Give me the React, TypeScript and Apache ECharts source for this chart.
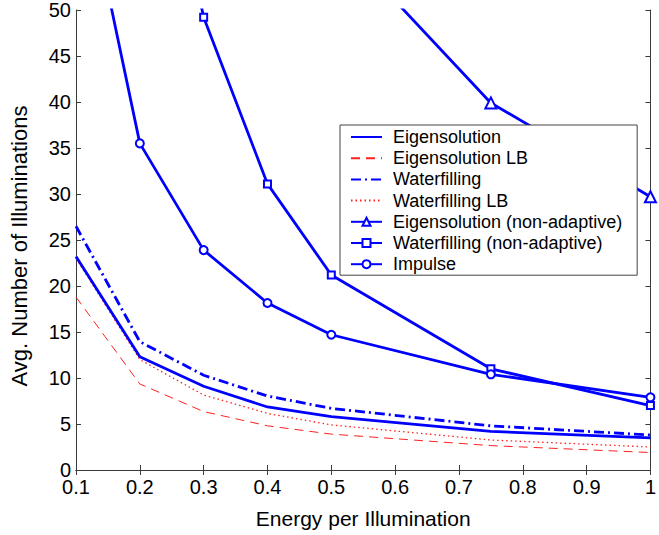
import React, { useEffect, useRef } from "react";
import * as echarts from "echarts";

const energy = [0.1, 0.2, 0.3, 0.4, 0.5, 0.75, 1.0];
const eigensolution = [23.2, 12.3, 9.1, 6.85, 5.8, 4.2, 3.5];
const eigensolutionLB = [18.8, 9.35, 6.35, 4.8, 3.9, 2.65, 1.9];
const waterfilling = [26.5, 13.95, 10.3, 8.04, 6.7, 4.8, 3.8];
const waterfillingLB = [23.0, 12.0, 8.15, 6.15, 4.9, 3.26, 2.5];
const eigenNonAdaptiveX = [0.5, 0.75, 1.0];
const eigenNonAdaptive = [58.4, 39.9, 29.7];
const waterNonAdaptiveX = [0.2, 0.3, 0.4, 0.5, 0.75, 1.0];
const waterNonAdaptive = [82, 49.2, 31.1, 21.2, 11.0, 7.0];
const impulse = [68.5, 35.5, 23.9, 18.15, 14.7, 10.4, 7.9];

const seriesNames = [
  "Eigensolution",
  "Eigensolution LB",
  "Waterfilling",
  "Waterfilling LB",
  "Eigensolution (non-adaptive)",
  "Waterfilling (non-adaptive)",
  "Impulse",
];

const pairs = (xs: number[], ys: number[]) => xs.map((x, i) => [x, ys[i]]);

const FONT = "'Liberation Sans', Arial, Helvetica, sans-serif";
const BLUE = "#0000ff";
const RED = "#ff2020";
const AXIS = "#3a3a3a";
const CLEAR = "rgba(0,0,0,0)";

export default function App() {
  const ref = useRef<HTMLDivElement>(null);
  useEffect(() => {
    if (!ref.current) return;
    const chart = echarts.init(ref.current, undefined, { renderer: "svg" });
    const fmt = (v: number) => String(Math.round(v * 10) / 10);
    const axisCommon = {
      axisLine: { show: true, lineStyle: { color: AXIS, width: 1 } },
      axisTick: { show: true, inside: true, length: 5, lineStyle: { color: AXIS } },
      splitLine: { show: false },
    };
    const plainLine = (name: string, data: number[][], color: string, width: number, type: any, z: number) => ({
      name,
      type: "line",
      data,
      symbol: "none",
      showSymbol: false,
      clip: true,
      lineStyle: { color, width, type },
      itemStyle: { color: CLEAR, borderColor: CLEAR, borderWidth: 0 },
      z,
    });
    const markedLine = (name: string, data: number[][], symbol: string, symbolSize: number) => ({
      name,
      type: "line",
      data,
      symbol,
      symbolSize,
      showSymbol: true,
      clip: true,
      lineStyle: { color: BLUE, width: 2.8 },
      itemStyle: { color: BLUE, borderColor: BLUE, borderWidth: 2 },
      z: 3,
    });
    chart.setOption({
      animation: false,
      backgroundColor: "#fff",
      textStyle: { fontFamily: FONT },
      grid: { left: 72, top: 10, right: 4, bottom: 65, containLabel: false },
      legend: {
        orient: "vertical",
        left: 340,
        top: 125,
        data: seriesNames,
        backgroundColor: "#fff",
        borderColor: "#444",
        borderWidth: 1,
        borderRadius: 0,
        padding: [3, 15, 2, 10],
        itemGap: 3.2,
        itemWidth: 31,
        itemHeight: 10,
        textStyle: { fontFamily: FONT, fontSize: 18, color: "#000", lineHeight: 18, padding: [0, 0, 0, 6] },
        z: 10,
      },
      xAxis: [
        {
          type: "value",
          min: 0.1,
          max: 1,
          interval: 0.1,
          name: "Energy per Illumination",
          nameLocation: "middle",
          nameGap: 38,
          nameTextStyle: { fontFamily: FONT, fontSize: 21, color: "#000" },
          axisLabel: { fontFamily: FONT, fontSize: 20, lineHeight: 16, color: "#000", margin: 9, formatter: fmt },
          ...axisCommon,
        },
        {
          type: "value",
          position: "top",
          min: 0.1,
          max: 1,
          interval: 0.1,
          axisLabel: { show: false },
          ...axisCommon,
        },
      ],
      yAxis: [
        {
          type: "value",
          min: 0,
          max: 50,
          interval: 5,
          name: "Avg. Number of Illuminations",
          nameLocation: "middle",
          nameRotate: 90,
          nameGap: 46,
          nameTextStyle: { fontFamily: FONT, fontSize: 22, color: "#000", padding: [0, 12, 0, 0] },
          axisLabel: { fontFamily: FONT, fontSize: 20, lineHeight: 15, color: "#000", margin: 5 },
          ...axisCommon,
        },
        {
          type: "value",
          position: "right",
          min: 0,
          max: 50,
          interval: 5,
          axisLabel: { show: false },
          ...axisCommon,
        },
      ],
      series: [
        plainLine(seriesNames[0], pairs(energy, eigensolution), BLUE, 2.8, "solid", 3),
        plainLine(seriesNames[1], pairs(energy, eigensolutionLB), RED, 1, [9, 6], 2),
        plainLine(seriesNames[2], pairs(energy, waterfilling), BLUE, 2.8, [10, 4, 2, 4], 3),
        plainLine(seriesNames[3], pairs(energy, waterfillingLB), RED, 1.3, [1.5, 3], 2),
        markedLine(seriesNames[4], pairs(eigenNonAdaptiveX, eigenNonAdaptive), "emptyTriangle", 11),
        markedLine(seriesNames[5], pairs(waterNonAdaptiveX, waterNonAdaptive), "emptyRect", 7),
        markedLine(seriesNames[6], pairs(energy, impulse), "emptyCircle", 8),
      ],
    });
    return () => chart.dispose();
  }, []);
  return (
    <div
      ref={ref}
      style={{ position: "absolute", left: 0, top: 0, width: 659, height: 535, background: "#fff" }}
    />
  );
}
